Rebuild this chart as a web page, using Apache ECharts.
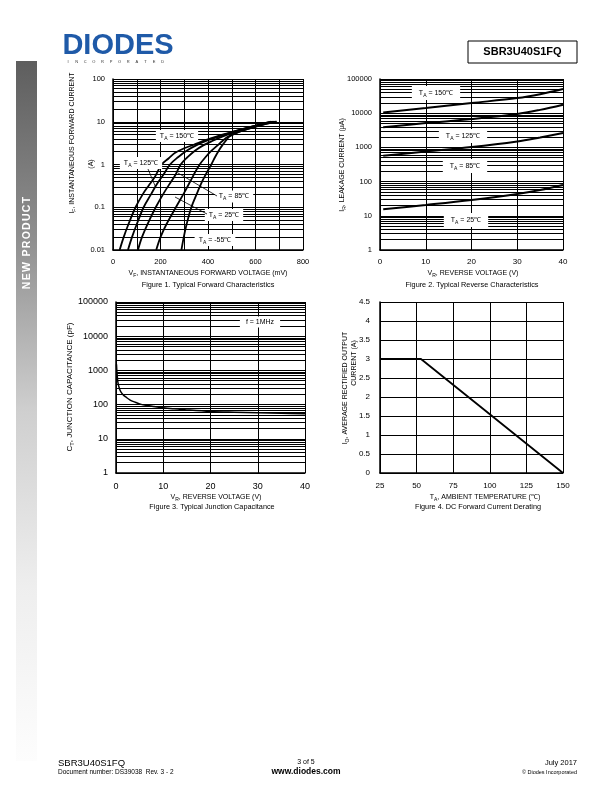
<!DOCTYPE html>
<html><head><meta charset="utf-8">
<script src="https://cdn.jsdelivr.net/npm/echarts@6/dist/echarts.min.js"></script>
<style>html,body{margin:0;padding:0;background:#fff}#c{width:612px;height:792px}</style>
</head><body><div id="c"></div>
<script>
// ---------------- DATA ----------------
// Figure 1: forward characteristics, [mV, A]
const fig1XLabels = [0, 200, 400, 600, 800];
const fig1YLabels = ['0.01', '0.1', '1', '10', '100'];
const fwdT150 = [[28,0.01],[45,0.02],[65,0.04],[95,0.1],[125,0.2],[150,0.32],[175,0.5],[205,1.0],[235,1.4],[260,1.85],[300,2.4],[340,2.9],[390,3.7],[435,4.5],[500,5.7],[560,7.1],[620,8.7],[665,10]];
const fwdT125 = [[63,0.01],[80,0.02],[100,0.04],[129,0.1],[160,0.2],[185,0.35],[210,0.55],[240,1.0],[275,1.5],[310,2.1],[350,2.8],[400,3.7],[445,4.5],[505,5.8],[565,7.2],[625,8.8],[672,10]];
const fwdT85  = [[105,0.01],[122,0.02],[145,0.04],[180,0.1],[215,0.22],[245,0.4],[265,0.6],[285,1.0],[315,1.5],[345,2.1],[380,2.8],[420,3.6],[460,4.5],[515,5.8],[575,7.3],[635,9],[680,10]];
const fwdT25  = [[182,0.01],[200,0.02],[225,0.04],[265,0.1],[300,0.22],[325,0.4],[345,0.65],[365,1.0],[390,1.5],[415,2.1],[440,2.8],[462,3.6],[485,4.5],[530,5.8],[590,7.4],[645,9.1],[686,10]];
const fwdTm55 = [[288,0.01],[298,0.02],[310,0.04],[330,0.1],[355,0.22],[375,0.4],[395,0.65],[414,1.0],[430,1.5],[445,2.1],[460,2.8],[475,3.6],[490,4.5],[520,5.5],[560,6.6],[610,7.9],[655,9.2],[690,10]];

// Figure 2: reverse characteristics, [V, uA]
const fig2XLabels = [0, 10, 20, 30, 40];
const fig2YLabels = ['1', '10', '100', '1000', '10000', '100000'];
const revT150 = [[0.7,10500],[10,14100],[20,19800],[30,27700],[35,36000],[40,51000]];
const revT125 = [[0.7,3900],[10,5140],[20,6730],[30,9440],[35,12500],[40,17700]];
const revT85  = [[0.7,567],[10,760],[20,1020],[30,1490],[35,1950],[40,2620]];
const revT25  = [[0.7,15.5],[10,20.8],[20,29.2],[30,43.7],[35,57],[40,80]];

// Figure 3: junction capacitance, [V, pF]
const fig3XLabels = [0, 10, 20, 30, 40];
const fig3YLabels = ['1', '10', '100', '1000', '10000', '100000'];
const capV = [0.1, 0.2, 0.4, 0.7, 1, 1.5, 2, 3, 4, 5, 6, 8, 10, 12, 15, 20, 25, 30, 35, 40];
const capC = [1500, 900, 450, 300, 240, 195, 170, 135, 118, 105, 97, 88, 81, 76, 70, 63, 60, 58, 56, 54];

// Figure 4: derating, [degC, A]
const fig4XLabels = [25, 50, 75, 100, 125, 150];
const fig4YLabels = ['0', '0.5', '1', '1.5', '2', '2.5', '3', '3.5', '4', '4.5'];
const derT = [25, 53, 150];
const derI = [3, 3, 0];

// ---------------- CHART ----------------
const FF = '"Liberation Sans", Arial, Helvetica, sans-serif';
const BLK = '#000';
const chart = echarts.init(document.getElementById('c'), null, {renderer: 'canvas'});

function logGrid(minExp, maxExp) {
  const out = [];
  for (let k = minExp; k < maxExp; k++) {
    for (let m = 1; m <= 9; m++) out.push(+(m * Math.pow(10, k)).toPrecision(6));
  }
  out.push(Math.pow(10, maxExp));
  return out;
}
function gridSeries(xi, vals) {
  return {
    type: 'line', xAxisIndex: xi, yAxisIndex: xi, data: [], z: 1, silent: true,
    markLine: {
      silent: true, animation: false, symbol: ['none', 'none'], label: {show: false},
      lineStyle: {color: BLK, width: 1, type: 'solid'}, emphasis: {disabled: true},
      data: vals.map(v => ({yAxis: v}))
    }
  };
}
function curve(xi, data, w) {
  return {
    type: 'line', xAxisIndex: xi, yAxisIndex: xi, data: data, z: 5, showSymbol: false,
    smooth: 0.35, silent: true, lineStyle: {color: BLK, width: w}, clip: true
  };
}
function xAx(gi, min, max, interval, labels, size, margin) {
  return {
    gridIndex: gi, type: 'value', min: min, max: max, interval: interval,
    axisLine: {show: true, onZero: false, lineStyle: {color: BLK, width: 1.5}},
    axisTick: {show: false},
    splitLine: {show: true, lineStyle: {color: BLK, width: 1}},
    axisLabel: {
      show: true, color: BLK, fontFamily: FF, fontSize: size, margin: margin,
      showMinLabel: true, showMaxLabel: true, hideOverlap: false,
      formatter: v => labels.indexOf(v) >= 0 ? String(v) : ''
    }
  };
}
function yLog(gi, min, max, labels, minExp, size) {
  return {
    gridIndex: gi, type: 'log', logBase: 10, min: min, max: max,
    axisLine: {show: true, onZero: false, lineStyle: {color: BLK, width: 1.5}},
    axisTick: {show: false},
    splitLine: {show: false},
    axisLabel: {
      show: true, color: BLK, fontFamily: FF, fontSize: size, margin: 8,
      showMinLabel: true, showMaxLabel: true, hideOverlap: false,
      formatter: v => { const i = Math.round(Math.log10(v)) - minExp; return labels[i] || ''; }
    }
  };
}

function rich(main, sub, rest, size, extra) {
  return Object.assign({
    text: '{a|' + main + '}{s|' + sub + '}{a|' + rest + '}',
    rich: {
      a: {fontSize: size, fontFamily: FF, fill: BLK, lineHeight: size + 3, verticalAlign: 'middle'},
      s: {fontSize: Math.round(size * 0.72 * 10) / 10, fontFamily: FF, fill: BLK, lineHeight: size * 0.72, verticalAlign: 'bottom'}
    },
    align: 'center', verticalAlign: 'middle'
  }, extra || {});
}
function label(x, y, main, sub, rest, size, opts) {
  const o = opts || {};
  const el = {type: 'text', x: x, y: y, z: 60, silent: true,
    style: rich(main, sub, rest, size, o.box ? {backgroundColor: '#fff', padding: o.pad || [1, 4]} : {})};
  if (o.rot) el.rotation = Math.PI / 2;
  return el;
}
function plain(x, y, text, size, opts) {
  const o = opts || {};
  const el = {type: 'text', x: x, y: y, z: 60, silent: true,
    style: {text: text, fontSize: size, fontFamily: FF, fontWeight: o.bold ? 'bold' : 'normal',
      fill: o.fill || BLK, align: o.align || 'center', verticalAlign: 'middle'}};
  if (o.box) { el.style.backgroundColor = '#fff'; el.style.padding = o.pad || [1, 4]; }
  if (o.rot) el.rotation = Math.PI / 2;
  return el;
}
function seg(x1, y1, x2, y2) {
  return {type: 'line', z: 61, silent: true, shape: {x1: x1, y1: y1, x2: x2, y2: y2}, style: {stroke: BLK, lineWidth: 0.8}};
}

const graphics = [];
// sidebar
graphics.push({type: 'rect', z: 0, silent: true, shape: {x: 16, y: 61, width: 21, height: 700},
  style: {fill: {type: 'linear', x: 0, y: 0, x2: 0, y2: 1, colorStops: [
    {offset: 0, color: '#5e5e5e'}, {offset: 0.25, color: '#8e8e8e'}, {offset: 0.5, color: '#cfcfcf'},
    {offset: 0.75, color: '#eeeeee'}, {offset: 1, color: '#fdfdfd'}]}}});
// "NEW PRODUCT", letter-spaced, reading bottom-to-top
(function () {
  const txt = 'NEW PRODUCT';
  const ctx = document.createElement('canvas').getContext('2d');
  const fs = 10.5;
  ctx.font = 'bold ' + fs + 'px ' + FF;
  const sp = 1.3;
  const widths = txt.split('').map(c => ctx.measureText(c).width);
  const total = widths.reduce((a, b) => a + b, 0) + sp * (txt.length - 1);
  let pos = 243 + total / 2;
  for (let i = 0; i < txt.length; i++) {
    graphics.push({type: 'text', x: 27.5, y: pos, rotation: Math.PI / 2, z: 5, silent: true,
      style: {text: txt[i], fontSize: fs, fontWeight: 'bold', fontFamily: FF, fill: '#fff', align: 'left', verticalAlign: 'middle'}});
    pos -= widths[i] + sp;
  }
})();
// logo
graphics.push({type: 'text', x: 118, y: 46, z: 5, silent: true,
  style: {text: 'DIODES', fontSize: 29, fontWeight: 'bold', fontFamily: FF, fill: '#1f5aa8', align: 'center', verticalAlign: 'middle'}});
const inc = 'INCORPORATED';
for (let i = 0; i < inc.length; i++) {
  graphics.push({type: 'text', x: 68 + i * 8.6, y: 61.5, z: 5, silent: true,
    style: {text: inc[i], fontSize: 4, fontFamily: FF, fill: '#333', align: 'center', verticalAlign: 'middle'}});
}
// part number box
graphics.push({type: 'rect', z: 5, silent: true, shape: {x: 468, y: 41, width: 109, height: 22}, style: {fill: 'none', stroke: BLK, lineWidth: 1}});
graphics.push(plain(522.5, 52, 'SBR3U40S1FQ', 11, {bold: true}));
// footer
graphics.push(plain(58, 763, 'SBR3U40S1FQ', 9.5, {align: 'left'}));
graphics.push(plain(58, 772.5, 'Document number: DS39038  Rev. 3 - 2', 6.5, {align: 'left'}));
graphics.push(plain(306, 762.5, '3 of 5', 7));
graphics.push(plain(306, 772, 'www.diodes.com', 8.5, {bold: true}));
graphics.push(plain(577, 763, 'July 2017', 7.5, {align: 'right'}));
graphics.push(plain(577, 772, '\u00A9 Diodes Incorporated', 5.5, {align: 'right'}));

// Figure 1 texts
graphics.push(label(72, 143, 'I', 'F', ', INSTANTANEOUS FORWARD CURRENT', 7, {rot: true}));
graphics.push(plain(91, 164, '(A)', 7, {rot: true}));
graphics.push(label(208, 273.5, 'V', 'F', ', INSTANTANEOUS FORWARD VOLTAGE (mV)', 7));
graphics.push(plain(208, 285, 'Figure 1. Typical Forward Characteristics', 7.3));
graphics.push(label(177, 136, 'T', 'A', ' = 150\u2103', 7, {box: true}));
graphics.push(label(141, 163, 'T', 'A', ' = 125\u2103', 7, {box: true}));
graphics.push(label(234, 196.5, 'T', 'A', ' = 85\u2103', 7, {box: true}));
graphics.push(label(224, 215, 'T', 'A', ' = 25\u2103', 7, {box: true}));
graphics.push(label(215, 240, 'T', 'A', ' = -55\u2103', 7, {box: true}));
graphics.push(seg(148, 169, 156, 188));
graphics.push(seg(217, 196, 178, 173));
graphics.push(seg(207, 214, 175, 197));

// Figure 2 texts
graphics.push(label(342, 165, 'I', 'R', ', LEAKAGE CURRENT (\u00B5A)', 7, {rot: true}));
graphics.push(label(473, 273.5, 'V', 'R', ', REVERSE VOLTAGE (V)', 7));
graphics.push(plain(472, 285, 'Figure 2. Typical Reverse Characteristics', 7.3));
graphics.push(label(436, 93, 'T', 'A', ' = 150\u2103', 7, {box: true, pad: [2, 7]}));
graphics.push(label(463, 136, 'T', 'A', ' = 125\u2103', 7, {box: true, pad: [2, 7]}));
graphics.push(label(465, 166, 'T', 'A', ' = 85\u2103', 7, {box: true, pad: [2, 7]}));
graphics.push(label(466, 220, 'T', 'A', ' = 25\u2103', 7, {box: true, pad: [2, 7]}));

// Figure 3 texts
graphics.push(label(70, 387, 'C', 'T', ', JUNCTION CAPACITANCE (pF)', 8, {rot: true}));
graphics.push(label(216, 497, 'V', 'R', ', REVERSE VOLTAGE (V)', 7));
graphics.push(plain(212, 506.5, 'Figure 3. Typical Junction Capacitance', 7.3));
graphics.push(plain(260, 322, 'f = 1MHz', 7, {box: true, pad: [2, 6]}));

// Figure 4 texts
graphics.push(label(345, 388, 'I', 'O', ', AVERAGE RECTIFIED OUTPUT', 7, {rot: true}));
graphics.push(plain(354, 363, 'CURRENT (A)', 7, {rot: true}));
graphics.push(label(485, 497, 'T', 'A', ', AMBIENT TEMPERATURE (\u2103)', 7));
graphics.push(plain(478, 507, 'Figure 4. DC Forward Current Derating', 7.3));

const option = {
  animation: false,
  backgroundColor: '#fff',
  grid: [
    {left: 113, top: 79, width: 190, height: 171, outerBoundsMode: 'none'},
    {left: 380, top: 79, width: 183, height: 171, outerBoundsMode: 'none'},
    {left: 116, top: 302, width: 189, height: 171, outerBoundsMode: 'none'},
    {left: 380, top: 302, width: 183, height: 171, outerBoundsMode: 'none'}
  ],
  xAxis: [
    xAx(0, 0, 800, 100, fig1XLabels, 7.5, 8),
    xAx(1, 0, 40, 10, fig2XLabels, 8, 8),
    xAx(2, 0, 40, 10, fig3XLabels, 9, 9),
    xAx(3, 25, 150, 25, fig4XLabels, 8, 9)
  ],
  yAxis: [
    yLog(0, 0.01, 100, fig1YLabels, -2, 7.5),
    yLog(1, 1, 100000, fig2YLabels, 0, 7.5),
    yLog(2, 1, 100000, fig3YLabels, 0, 9),
    {
      gridIndex: 3, type: 'value', min: 0, max: 4.5, interval: 0.5,
      axisLine: {show: true, onZero: false, lineStyle: {color: BLK, width: 1.5}},
      axisTick: {show: false},
      splitLine: {show: true, lineStyle: {color: BLK, width: 1}},
      axisLabel: {show: true, color: BLK, fontFamily: FF, fontSize: 8, margin: 10,
        showMinLabel: true, showMaxLabel: true,
        formatter: v => { const s = String(+v.toFixed(1)); return fig4YLabels.indexOf(s) >= 0 ? s : ''; }}
    }
  ],
  series: [
    gridSeries(0, logGrid(-2, 2)),
    curve(0, fwdT150, 1.8), curve(0, fwdT125, 1.8), curve(0, fwdT85, 1.8), curve(0, fwdT25, 1.8), curve(0, fwdTm55, 1.8),
    gridSeries(1, logGrid(0, 5)),
    curve(1, revT150, 2), curve(1, revT125, 2), curve(1, revT85, 2), curve(1, revT25, 2),
    gridSeries(2, logGrid(0, 5)),
    curve(2, capV.map((v, i) => [v, capC[i]]), 1.5),
    {type: 'line', xAxisIndex: 3, yAxisIndex: 3, z: 5, showSymbol: false, silent: true,
      data: derT.map((t, i) => [t, derI[i]]), lineStyle: {color: BLK, width: 1.8}}
  ],
  graphic: graphics
};
chart.setOption(option);
</script>
</body></html>
